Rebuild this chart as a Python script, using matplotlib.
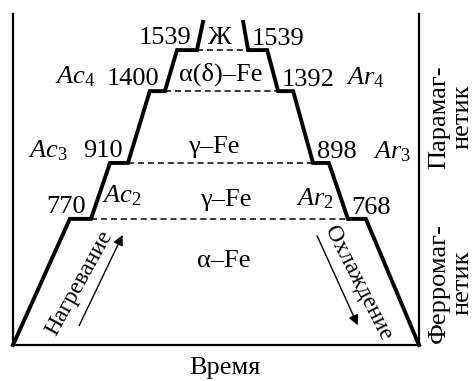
import matplotlib
matplotlib.use("Agg")
import matplotlib.pyplot as plt

plt.rcParams['font.family'] = ['Liberation Serif', 'DejaVu Serif']
plt.rcParams['mathtext.fontset'] = 'custom'
plt.rcParams['mathtext.rm'] = 'Liberation Serif'
plt.rcParams['mathtext.it'] = 'Liberation Serif:italic'

# schematic heights of the transition plateaus (not to temperature scale)
levels = [38.1, 55.0, 76.7, 89.1]
top_level = 97.6
heat_temps = [770, 910, 1400, 1539]
cool_temps = [768, 898, 1392, 1539]
heat_names = [r"$Ac_2$", r"$Ac_3$", r"$Ac_4$"]
cool_names = [r"$Ar_2$", r"$Ar_3$", r"$Ar_4$"]

# time when each plateau starts / ends
heat_start = [14.0, 23.9, 33.7, 40.4]
heat_end = [19.2, 28.3, 37.4, 45.3]
cool_start = [82.5, 73.9, 65.3, 57.9]
cool_end = [86.9, 77.8, 69.0, 62.6]
melt_times = [46.8, 56.7]
end_time = 100

phases = ["α–Fe", "γ–Fe", "γ–Fe", "α(δ)–Fe", "Ж"]

# heating path
hx, hy = [0], [0]
for i in range(len(levels)):
    hx += [heat_start[i], heat_end[i]]
    hy += [levels[i], levels[i]]
hx.append(melt_times[0])
hy.append(top_level)

# cooling path
cx, cy = [melt_times[1]], [top_level]
for i in reversed(range(len(levels))):
    cx += [cool_start[i], cool_end[i]]
    cy += [levels[i], levels[i]]
cx.append(end_time)
cy.append(0)

fig = plt.figure(figsize=(4.76, 3.81), dpi=100)
ax = fig.add_axes([13 / 476, 36 / 381, 406 / 476, 331 / 381])
ax.set_xlim(0, 100)
ax.set_ylim(0, 100)
ax.set_xticks([])
ax.set_yticks([])
ax.spines['top'].set_visible(False)
for s in ['left', 'right', 'bottom']:
    ax.spines[s].set_linewidth(1.6)

ax.plot(hx, hy, color='black', lw=2.8, solid_joinstyle='miter', clip_on=False)
ax.plot(cx, cy, color='black', lw=2.8, solid_joinstyle='miter', clip_on=False)

for i, lv in enumerate(levels):
    ax.plot([heat_end[i], cool_start[i]], [lv, lv], color='black', lw=1.1,
            linestyle=(0, (4, 2.5)))

fs = 19
# temperature labels
for i, lv in enumerate(levels):
    ax.text(heat_end[i] - 1.3, lv + 1.8, str(heat_temps[i]),
            ha='right', va='baseline', fontsize=fs)
    ax.text(cool_start[i] + 0.9, lv + 1.6, str(cool_temps[i]),
            ha='left', va='baseline', fontsize=fs)

# Ac / Ar names
ax.text(22.0, 43.0, heat_names[0], ha='left', va='baseline', fontsize=fs)
ax.text(13.5, 56.8, heat_names[1], ha='right', va='baseline', fontsize=fs)
ax.text(20.2, 79.0, heat_names[2], ha='right', va='baseline', fontsize=fs)
ax.text(79.0, 42.2, cool_names[0], ha='right', va='baseline', fontsize=fs)
ax.text(88.6, 56.5, cool_names[1], ha='left', va='baseline', fontsize=fs)
ax.text(82.0, 78.8, cool_names[2], ha='left', va='baseline', fontsize=fs)

# phase labels
phase_pos = [(52.0, 23.6), (52.5, 42.0), (49.5, 57.9), (51.2, 79.8), (51.0, 90.9)]
for name, (px, py) in zip(phases, phase_pos):
    ax.text(px, py, name, ha='center', va='baseline', fontsize=fs)

ax.text(16.3, 18.6, "Нагревание", rotation=61, rotation_mode='anchor',
        ha='center', va='center', fontsize=17)
ax.text(84.9, 18.8, "Охлаждение", rotation=-63, rotation_mode='anchor',
        ha='center', va='center', fontsize=17)
ax.annotate("", xy=(27.3, 34.0), xytext=(16.0, 5.1),
            arrowprops=dict(arrowstyle='-|>', lw=1.0, color='black', mutation_scale=15))
ax.annotate("", xy=(85.2, 5.2), xytext=(74.6, 33.8),
            arrowprops=dict(arrowstyle='-|>', lw=1.0, color='black', mutation_scale=15))

ax.text(52.2, -8.9, "Время", ha='center', va='baseline', fontsize=19, clip_on=False)
ax.text(107.8, 68.9, "Парамаг-\nнетик", rotation=90, ha='center', va='center',
        multialignment='center', fontsize=19, linespacing=1.05, clip_on=False)
ax.text(107.8, 18.7, "Ферромаг-\nнетик", rotation=90, ha='center', va='center',
        multialignment='center', fontsize=19, linespacing=1.05, clip_on=False)

fig.savefig("out.png", dpi=100)
